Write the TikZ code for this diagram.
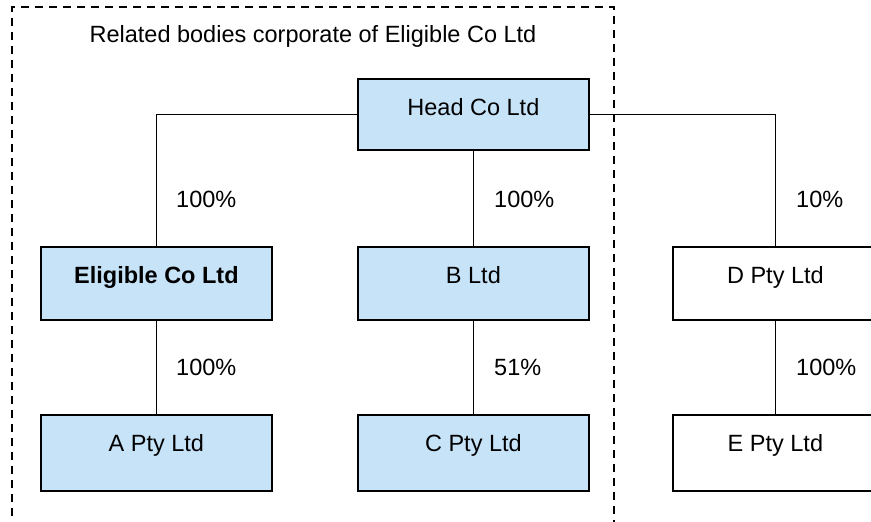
\documentclass[tikz,border=0pt]{standalone}
\usepackage{fontspec}
\setmainfont{Liberation Sans}
\definecolor{boxblue}{RGB}{198,227,248}
\begin{document}
\begin{tikzpicture}[x=1pt,y=-1pt,
  font=\fontsize{23.5}{28}\selectfont,
  orgbox/.style={draw=black, line width=1.8pt, inner sep=0pt, anchor=north west,
    minimum width=231pt, text height=37pt},
  toprow/.style={text depth=36pt},
  botrow/.style={text depth=39pt},
  blue/.style={fill=boxblue},
  conn/.style={draw=black, line width=1.5pt},
  pct/.style={anchor=base west, inner sep=0pt}]
\clip (0,0) rectangle (871,522);
% dashed group outline
\draw[line width=1.6pt, dash pattern=on 8pt off 6pt] (12,530) |- (614,7) -- (614,530);
\node[anchor=base, inner sep=0pt] (title) at (313,42) {Related bodies corporate of Eligible Co Ltd};
% boxes
\node[orgbox, blue, text depth=34pt] (head) at (357,78) {Head Co Ltd};
\node[orgbox, blue, toprow] (elig) at (40,246) {\textbf{Eligible Co Ltd}};
\node[orgbox, blue, toprow] (b) at (357,246) {B Ltd};
\node[orgbox, toprow, minimum width=205pt] (d) at (672,246) {D Pty Ltd};
\node[orgbox, blue, botrow] (a) at (40,414) {A Pty Ltd};
\node[orgbox, blue, botrow] (c) at (357,414) {C Pty Ltd};
\node[orgbox, botrow, minimum width=205pt] (e) at (672,414) {E Pty Ltd};
% connectors
\draw[conn] (head.west) -| (elig.north);
\draw[conn] (head.east) -| (d.north);
\draw[conn] (head.south) -- (b.north);
\draw[conn] (elig.south) -- (a.north);
\draw[conn] (b.south) -- (c.north);
\draw[conn] (d.south) -- (e.north);
% percentages
\node[pct] (p1) at (176,207) {100\%};
\node[pct] (p2) at (494,207) {100\%};
\node[pct] (p3) at (796,207) {10\%};
\node[pct] (p4) at (176,375) {100\%};
\node[pct] (p5) at (494,375) {51\%};
\node[pct] (p6) at (796,375) {100\%};
\end{tikzpicture}
\end{document}
